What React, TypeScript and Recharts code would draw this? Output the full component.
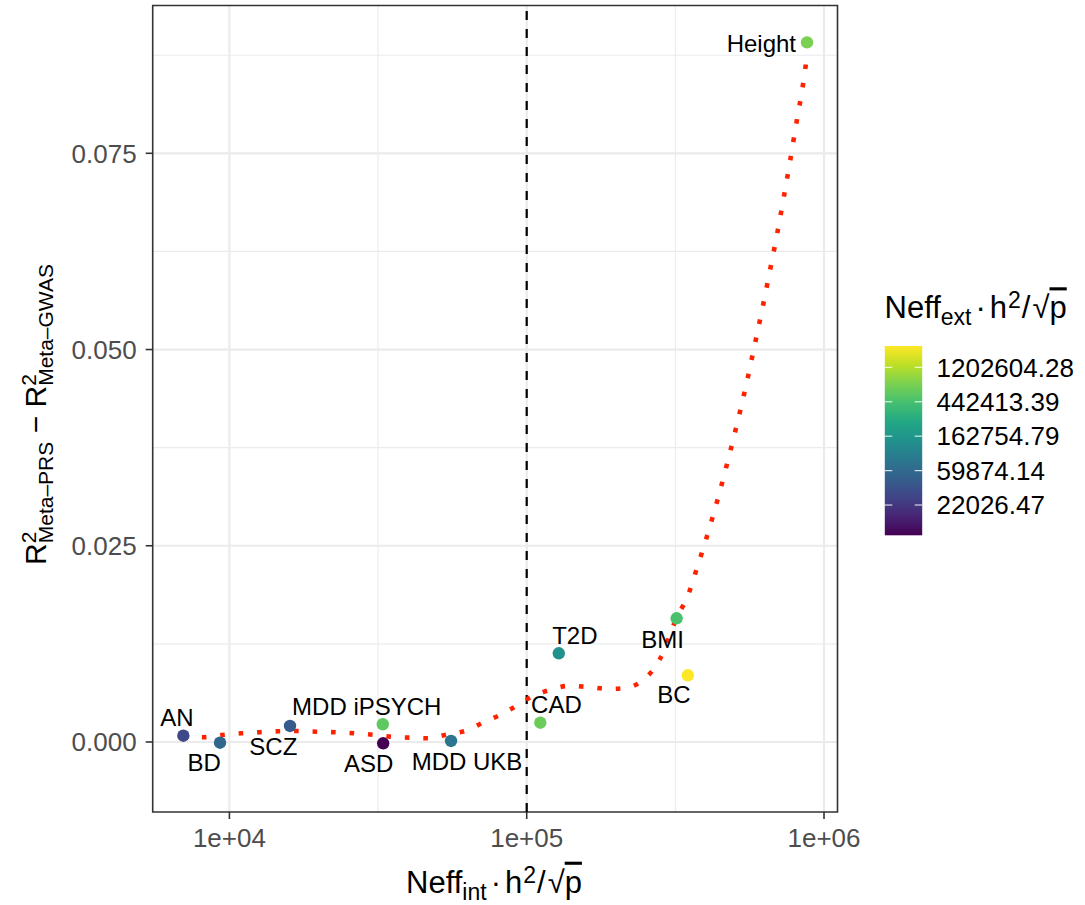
import React from 'react';
import { ComposedChart, Line, Scatter, XAxis, YAxis, CartesianGrid, ReferenceLine, ReferenceArea } from 'recharts';

const FONT = "'Liberation Sans', Arial, Helvetica, sans-serif";

// ---- data ----
const traits = ["AN", "BD", "SCZ", "MDD iPSYCH", "ASD", "MDD UKB", "CAD", "T2D", "BMI", "BC", "Height"];
const neffInt = [7000, 9300, 15990, 32800, 32900, 55650, 111100, 128200, 319300, 348300, 876600];
const r2Diff = [0.0008, -0.00009, 0.00204, 0.00226, -0.00017, 0.00013, 0.00246, 0.0113, 0.01576, 0.0085, 0.08913];
const neffExt = [30600, 56300, 42700, 570000, 9140, 78500, 636000, 143000, 457000, 2236000, 746000];

const smoothX = [7000, 8148, 9422, 11000, 12670, 14570, 16840, 19660, 22660, 26250, 30340, 34690, 40180, 46560, 53940, 62500, 71120, 81330, 92770, 104760, 119800, 137700, 160800, 187700, 215300, 246200, 270200, 288900, 302900, 320200, 344500, 377800, 412000, 445900, 479900, 514900, 550100, 584200, 620600, 657200, 694900, 731800, 769600, 807000, 848000, 876600];
const smoothY = [0.00066, 0.0006, 0.00089, 0.00111, 0.00124, 0.00136, 0.0014, 0.00131, 0.00124, 0.00111, 0.00093, 0.00068, 0.00055, 0.00047, 0.00096, 0.00144, 0.00246, 0.00344, 0.00463, 0.00586, 0.00663, 0.00714, 0.00701, 0.00676, 0.00688, 0.0079, 0.00956, 0.01157, 0.01364, 0.01594, 0.01819, 0.02271, 0.02729, 0.03188, 0.03652, 0.0412, 0.04588, 0.05054, 0.05526, 0.05998, 0.06466, 0.06934, 0.07411, 0.07882, 0.08354, 0.0874];

const xTicks = [10000, 100000, 1000000];
const xTickLabels = ["1e+04", "1e+05", "1e+06"];
const xMinor = [31622.78, 316227.8];
const yTicks = [0, 0.025, 0.05, 0.075];
const yTickLabels = ["0.000", "0.025", "0.050", "0.075"];
const yMinor = [0.0125, 0.0375, 0.0625, 0.0875];
const vLineAt = 100000;

const legendBreaks = [10, 11, 12, 13, 14]; // natural log values
const legendLabels = ["22026.47", "59874.14", "162754.79", "442413.39", "1202604.28"];

const xDomain = [5521, 1110000];
const yDomain = [-0.00892, 0.09383];

// label placement (pixel offsets of label centre from its point)
const labelPlace: Record<string, { dx: number; dy: number; anchor?: string }> = {
  "AN": { dx: -6.5, dy: -18.5 },
  "BD": { dx: -15.8, dy: 20.1 },
  "SCZ": { dx: -16.7, dy: 20.3 },
  "MDD iPSYCH": { dx: -16, dy: -18.1 },
  "ASD": { dx: -14.4, dy: 20 },
  "MDD UKB": { dx: 16, dy: 20.7 },
  "CAD": { dx: 16.1, dy: -18.7 },
  "T2D": { dx: 16.1, dy: -18 },
  "BMI": { dx: -14, dy: 20.9 },
  "BC": { dx: -13.8, dy: 19.4 },
  "Height": { dx: -11, dy: 0.6, anchor: "end" },
};

// ---- colour (viridis on log scale) ----
const viridis = ["#440154", "#482475", "#414487", "#355F8D", "#2A788E", "#21918C", "#22A884", "#44BF70", "#7AD151", "#BDDF26", "#FDE725"];
const lnMin = Math.log(Math.min(...neffExt));
const lnMax = Math.log(Math.max(...neffExt));
function hexToRgb(h: string) {
  const n = parseInt(h.slice(1), 16);
  return [(n >> 16) & 255, (n >> 8) & 255, n & 255];
}
function viridisAt(t: number) {
  const tt = Math.max(0, Math.min(1, t)) * (viridis.length - 1);
  const i = Math.min(viridis.length - 2, Math.floor(tt));
  const f = tt - i;
  const a = hexToRgb(viridis[i]);
  const b = hexToRgb(viridis[i + 1]);
  const c = a.map((v, k) => Math.round(v + (b[k] - v) * f));
  return `rgb(${c[0]},${c[1]},${c[2]})`;
}

const points = traits.map((name, i) => ({
  name,
  x: neffInt[i],
  y: r2Diff[i],
  color: viridisAt((Math.log(neffExt[i]) - lnMin) / (lnMax - lnMin)),
}));
const smooth = smoothX.map((x, i) => ({ x, y: smoothY[i] }));

// ---- grid generators using the axis scales ----
const l10 = (v: number) => Math.log10(v);
function vGen(vals: number[]) {
  return (p: any) => {
    const ax = p && p.xAxis;
    if (ax && typeof ax.scale === 'function') {
      const r = vals.map((v) => ax.scale(v));
      if (r.every((q: any) => Number.isFinite(q))) return r;
    }
    const o = p.offset;
    return vals.map((v) => o.left + ((l10(v) - l10(xDomain[0])) / (l10(xDomain[1]) - l10(xDomain[0]))) * o.width);
  };
}
function hGen(vals: number[]) {
  return (p: any) => {
    const ax = p && p.yAxis;
    if (ax && typeof ax.scale === 'function') {
      const r = vals.map((v) => ax.scale(v));
      if (r.every((q: any) => Number.isFinite(q))) return r;
    }
    const o = p.offset;
    return vals.map((v) => o.top + ((yDomain[1] - v) / (yDomain[1] - yDomain[0])) * o.height);
  };
}

const PointShape = (props: any) => {
  const { cx, cy, payload } = props;
  if (cx == null || cy == null) return null;
  return <circle cx={cx} cy={cy} r={6.2} fill={payload.color} />;
};

const LabelShape = (props: any) => {
  const { cx, cy, payload } = props;
  if (cx == null || cy == null) return null;
  const pl = labelPlace[payload.name] || { dx: 0, dy: -18 };
  return (
    <text
      x={cx + pl.dx}
      y={cy + pl.dy}
      dy="0.358em"
      textAnchor={(pl.anchor as any) || 'middle'}
      fontFamily={FONT}
      fontSize={24}
      fill="#000"
    >
      {payload.name}
    </text>
  );
};

const tickStyle = { fill: '#4D4D4D', fontSize: 26, fontFamily: FONT };

// legend geometry
const BAR_X = 884.8, BAR_W = 37.4, BAR_TOP = 346, BAR_BOT = 535.3;
const barY = (ln: number) => BAR_BOT - ((ln - lnMin) / (lnMax - lnMin)) * (BAR_BOT - BAR_TOP);

const TitleExpr = ({ sub }: { sub: string }) => (
  <>
    Neff<tspan fontSize={23} dy={7}>{sub}</tspan>
    <tspan dy={-7} dx={4}>·</tspan>
    <tspan dx={4}>h</tspan>
    <tspan fontSize={23} dy={-10} dx={1}>2</tspan>
    <tspan dy={10} dx={1}>/</tspan>
    <tspan dx={2}>√</tspan>
    <tspan style={{ textDecoration: 'overline' }}>p</tspan>
  </>
);

export default function App() {
  return (
    <div style={{ position: 'absolute', left: 0, top: 0, width: 1085, height: 905, background: '#fff' }}>
      <ComposedChart width={1085} height={905} margin={{ top: 5.5, right: 247.5, bottom: 53, left: 52.7 }}>
        <CartesianGrid
          stroke="#EBEBEB"
          strokeWidth={1.1}
          fill="none"
          verticalCoordinatesGenerator={vGen(xMinor)}
          horizontalCoordinatesGenerator={hGen(yMinor)}
        />
        <CartesianGrid
          stroke="#EBEBEB"
          strokeWidth={2.2}
          fill="none"
          verticalCoordinatesGenerator={vGen(xTicks)}
          horizontalCoordinatesGenerator={hGen(yTicks)}
        />
        <XAxis
          dataKey="x"
          type="number"
          scale="log"
          domain={xDomain}
          allowDataOverflow
          ticks={xTicks}
          interval={0}
          tickFormatter={(v: number) => xTickLabels[xTicks.findIndex((t) => Math.abs(t - v) / t < 1e-6)] ?? String(v)}
          height={40}
          tickSize={7}
          tickMargin={10}
          tick={tickStyle}
          axisLine={false}
          tickLine={{ stroke: '#333333', strokeWidth: 1.6 }}
        />
        <YAxis
          dataKey="y"
          type="number"
          domain={yDomain}
          allowDataOverflow
          ticks={yTicks}
          interval={0}
          tickFormatter={(v: number) => yTickLabels[yTicks.findIndex((t) => Math.abs(t - v) < 1e-9)] ?? String(v)}
          width={100}
          tickSize={7}
          tickMargin={9}
          tick={tickStyle}
          axisLine={false}
          tickLine={{ stroke: '#333333', strokeWidth: 1.6 }}
        />
        <ReferenceLine x={vLineAt} stroke="#000" strokeWidth={2.2} strokeDasharray="9 9" />
        <Line
          data={smooth}
          dataKey="y"
          type="monotone"
          stroke="#FF2200"
          strokeWidth={4.6}
          strokeDasharray="4.6 13.9"
          dot={false}
          activeDot={false}
          isAnimationActive={false}
        />
        <Scatter data={points} dataKey="y" shape={PointShape} isAnimationActive={false} />
        <Scatter data={points} dataKey="y" shape={LabelShape} isAnimationActive={false} />
        <ReferenceArea
          x1={xDomain[0]}
          x2={xDomain[1]}
          y1={yDomain[0]}
          y2={yDomain[1]}
          fill="none"
          fillOpacity={0}
          stroke="#333333"
          strokeWidth={1.6}
          ifOverflow="visible"
        />
      </ComposedChart>

      <svg width={1085} height={905} style={{ position: 'absolute', left: 0, top: 0, pointerEvents: 'none' }}>
        <defs>
          <linearGradient id="vir" x1="0" y1="1" x2="0" y2="0">
            {viridis.map((c, i) => (
              <stop key={i} offset={`${(i / (viridis.length - 1)) * 100}%`} stopColor={c} />
            ))}
          </linearGradient>
        </defs>

        {/* x axis title */}
        <text x={494} y={892.7} textAnchor="middle" fontFamily={FONT} fontSize={31} fill="#000">
          <TitleExpr sub="int" />
        </text>

        {/* y axis title */}
        <g transform="translate(46,414.5) rotate(-90)">
          <text x={0} y={0} textAnchor="middle" fontFamily={FONT} fontSize={30} fill="#000">
            R<tspan fontSize={21} dy={-10}>2</tspan>
            <tspan fontSize={21} dx={-11.7} dy={17}>Meta–PRS</tspan>
            <tspan dy={-7}> − R</tspan>
            <tspan fontSize={21} dy={-10}>2</tspan>
            <tspan fontSize={21} dx={-11.7} dy={17}>Meta–GWAS</tspan>
          </text>
        </g>

        {/* legend */}
        <text x={884.5} y={318.3} fontFamily={FONT} fontSize={31} fill="#000">
          <TitleExpr sub="ext" />
        </text>
        <rect x={BAR_X} y={BAR_TOP} width={BAR_W} height={BAR_BOT - BAR_TOP} fill="url(#vir)" />
        {legendBreaks.map((b, i) => {
          const y = barY(b);
          return (
            <g key={i}>
              <line x1={BAR_X} x2={BAR_X + 7.5} y1={y} y2={y} stroke="#fff" strokeWidth={1.2} strokeOpacity={0.8} />
              <line x1={BAR_X + BAR_W - 7.5} x2={BAR_X + BAR_W} y1={y} y2={y} stroke="#fff" strokeWidth={1.2} strokeOpacity={0.8} />
              <text x={936.5} y={y} dy="0.358em" fontFamily={FONT} fontSize={26} fill="#000">
                {legendLabels[i]}
              </text>
            </g>
          );
        })}
      </svg>
    </div>
  );
}
